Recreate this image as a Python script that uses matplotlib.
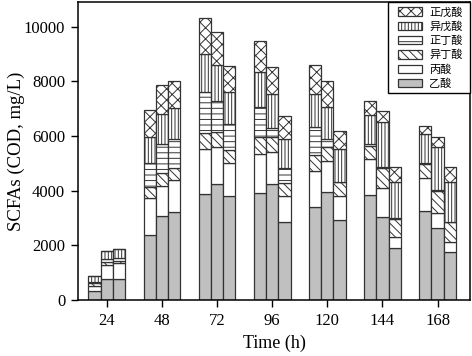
import matplotlib
matplotlib.use("Agg")
import matplotlib.pyplot as plt
import numpy as np
from matplotlib.patches import Patch, Rectangle

plt.rcParams['hatch.linewidth'] = 0.7

times = ["24", "48", "72", "96", "120", "144", "168"]

# each row: one time point, three bars
acetic = [[350, 757, 760], [2378, 3086, 3232], [3880, 4244, 3805], [3902, 4232, 2841],
          [3402, 3939, 2939], [3841, 3024, 1890], [3268, 2646, 1768]]
propionic = [[180, 524, 580], [1342, 1073, 1146], [1632, 1341, 1207], [1427, 1170, 976],
             [1305, 1134, 866], [1305, 1061, 403], [1183, 549, 342]]
isobutyric = [[80, 100, 90], [402, 487, 463], [610, 549, 488], [622, 574, 451],
              [586, 537, 500], [500, 732, 658], [512, 793, 731]]
nbutyric = [[60, 110, 95], [878, 1061, 1037], [1476, 1134, 939], [1122, 304, 549],
            [1048, 268, 30], [60, 50, 40], [40, 40, 30]]
isovaleric = [[200, 300, 340], [951, 1086, 1134], [1390, 1317, 1159], [1256, 1244, 1085],
              [1183, 1171, 1189], [1062, 1633, 1314], [1058, 1582, 1434]]
nvaleric = [[0, 0, 0], [1015, 1073, 1000], [1341, 1208, 951], [1159, 988, 842],
            [1073, 951, 647], [512, 415, 573], [317, 341, 573]]

series = [
    ("乙酸", acetic, "#c0c0c0", ""),
    ("丙酸", propionic, "white", ""),
    ("异丁酸", isobutyric, "white", "\\\\\\\\"),
    ("正丁酸", nbutyric, "white", "---"),
    ("异戊酸", isovaleric, "white", "|||||"),
    ("正戊酸", nvaleric, "white", "xxx"),
]

fig = plt.figure(figsize=(4.72, 3.56), dpi=100)
ax = fig.add_axes([0.166, 0.157, 0.830, 0.837])

x = np.arange(len(times))
w = 0.222
offsets = [-w, 0, w]
edge = "#333333"

for j, off in enumerate(offsets):
    bottom = np.zeros(len(times))
    for name, data, fc, hatch in series:
        vals = np.array([row[j] for row in data], dtype=float)
        ax.bar(x + off, vals, w, bottom=bottom, color=fc, edgecolor=edge,
               hatch=hatch, linewidth=0.9)
        bottom += vals

ax.set_xlim(-0.515, 6.59)
ax.set_ylim(0, 10900)
ax.set_xticks(x)
ax.set_xticklabels(times)
ax.set_yticks([0, 2000, 4000, 6000, 8000, 10000])

serif = ["Liberation Serif", "DejaVu Serif"]
for lab in ax.get_xticklabels() + ax.get_yticklabels():
    lab.set_family(serif)
    lab.set_fontsize(12)
ax.tick_params(axis='both', direction='out', length=5, width=1.0, colors='black')
ax.tick_params(axis='x', pad=4)
ax.tick_params(axis='y', pad=4.5)
for s in ax.spines.values():
    s.set_linewidth(1.1)

ax.set_xlabel("Time (h)", family=serif, fontsize=13, labelpad=4.5)
ax.set_ylabel("SCFAs (COD, mg/L)", family=serif, fontsize=13.5, labelpad=-1)

# legend frame (wider horizontal padding than vertical, as in the reference)
ax.add_patch(Rectangle((0.791, 0.695), 0.209, 0.305, transform=ax.transAxes,
                       facecolor='white', edgecolor='black', linewidth=1.0,
                       zorder=4.5, clip_on=False))

handles = [Patch(facecolor=fc, edgecolor=edge, hatch=h, linewidth=0.9, label=n)
           for n, _, fc, h in series][::-1]
leg = ax.legend(handles=handles, loc='upper left', bbox_to_anchor=(0.8154, 0.984),
                borderaxespad=0, borderpad=0,
                prop={'family': ['Noto Sans CJK SC', 'DejaVu Sans'], 'size': 8},
                frameon=False, handlelength=2.15, handleheight=0.78,
                labelspacing=0.34, handletextpad=0.65)
leg.set_zorder(5)

fig.savefig("out.png", dpi=100)
